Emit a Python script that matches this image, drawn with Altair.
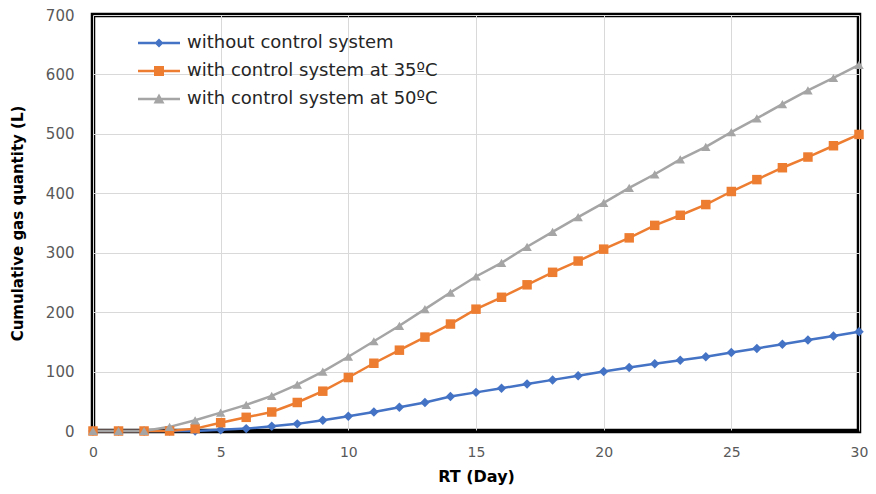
import altair as alt
import pandas as pd

days = list(range(31))
series_names = [
    "without control system",
    "with control system at 35ºC",
    "with control system at 50ºC",
]
without_ctrl = [0, 0, 0, 0, 0, 2, 4, 8, 12, 18, 25, 32, 40, 48, 58, 65, 72, 79, 86, 93,
                100, 107, 113, 119, 125, 132, 139, 146, 153, 160, 167]
ctrl_35 = [0, 0, 0, 0, 4, 14, 23, 32, 48, 67, 90, 114, 136, 158, 180, 205, 225, 246, 267, 286,
           306, 325, 346, 363, 381, 403, 423, 443, 461, 480, 499]
ctrl_50 = [0, 0, 0, 7, 18, 31, 44, 59, 78, 100, 125, 151, 177, 205, 233, 260, 283, 310, 335, 360,
           384, 409, 432, 457, 478, 503, 526, 550, 573, 594, 616]
colors = ["#4472C4", "#ED7D31", "#A5A5A5"]
marker_shapes = ["diamond", "square", "triangle-up"]
x_ticks = [0, 5, 10, 15, 20, 25, 30]
y_ticks = [0, 100, 200, 300, 400, 500, 600, 700]

# legend glyphs: a short line with the series marker on it
legend_paths = [
    "M-2.1,-0.12H2.1V0.12H-2.1Z M0,-0.45L0.45,0L0,0.45L-0.45,0Z",
    "M-2.1,-0.12H2.1V0.12H-2.1Z M-0.5,-0.5H0.5V0.5H-0.5Z",
    "M-2.1,-0.12H2.1V0.12H-2.1Z M0,-0.55L0.55,0.45H-0.55Z",
]

rows = []
for i, (name, vals) in enumerate(zip(series_names, [without_ctrl, ctrl_35, ctrl_50])):
    for d, v in zip(days, vals):
        rows.append({"day": d, "value": v, "series": name, "marker": name, "order": i})
df = pd.DataFrame(rows)

FONT = "DejaVu Sans"

x_enc = alt.X(
    "day:Q",
    scale=alt.Scale(domain=[0, 30], nice=False, zero=False),
    axis=alt.Axis(
        values=x_ticks, title="RT (Day)", grid=True, gridColor="#D9D9D9", ticks=False,
        domain=True, domainColor="#000000", domainWidth=2,
        labelFont=FONT, labelFontSize=14, labelColor="#595959", labelPadding=14,
        titleFont=FONT, titleFontSize=16, titleFontWeight="bold", titleColor="#000000",
        titlePadding=9, labelFlush=False,
    ),
)
y_enc = alt.Y(
    "value:Q",
    scale=alt.Scale(domain=[0, 700], nice=False),
    axis=alt.Axis(
        values=y_ticks, title="Cumulative gas quantity (L)", grid=True, gridColor="#D9D9D9",
        ticks=False, domain=False,
        labelFont=FONT, labelFontSize=15, labelColor="#595959", labelPadding=19,
        titleFont=FONT, titleFontSize=15, titleFontWeight="bold", titleColor="#000000",
        titlePadding=20,
    ),
)

legend_opts = dict(
    title=None, orient="none", legendX=45, legendY=18, padding=0,
    labelFont=FONT, labelFontSize=18, labelColor="#262626", labelLimit=500,
    symbolSize=400, symbolOffset=11, labelOffset=18, rowPadding=9,
    symbolStrokeWidth=0, symbolOpacity=1,
)

lines = alt.Chart(df).mark_line(strokeWidth=2.5).encode(
    x=x_enc, y=y_enc,
    color=alt.Color("series:N", scale=alt.Scale(domain=series_names, range=colors), legend=None),
    detail="series:N", order="day:Q",
)
points = alt.Chart(df).mark_point(filled=True, opacity=1, size=90).encode(
    x="day:Q",
    y="value:Q",
    color=alt.Color("series:N", scale=alt.Scale(domain=series_names, range=colors), legend=None),
    shape=alt.Shape("marker:N", scale=alt.Scale(domain=series_names, range=marker_shapes), legend=None),
    order="order:Q",
)
legend_layer = alt.Chart(df).transform_filter("datum.day < 0").mark_point(
    filled=True, opacity=1, size=400
).encode(
    x="day:Q",
    y="value:Q",
    color=alt.Color(
        "series:N", scale=alt.Scale(domain=series_names, range=colors),
        legend=alt.Legend(**legend_opts),
    ),
    shape=alt.Shape(
        "series:N", scale=alt.Scale(domain=series_names, range=legend_paths),
        legend=alt.Legend(**legend_opts),
    ),
)

chart = (
    alt.layer(lines, points, legend_layer)
    .resolve_scale(color="independent", shape="independent")
    .properties(
        width=766, height=416,
        autosize=alt.AutoSizeParams(type="none"),
        padding={"left": 85, "top": 7, "right": 9, "bottom": 55},
        background="white",
    )
    .configure_view(stroke="#000000", strokeWidth=4.5)
)

chart.save("out.html", embed_options={"renderer": "svg", "actions": False})
